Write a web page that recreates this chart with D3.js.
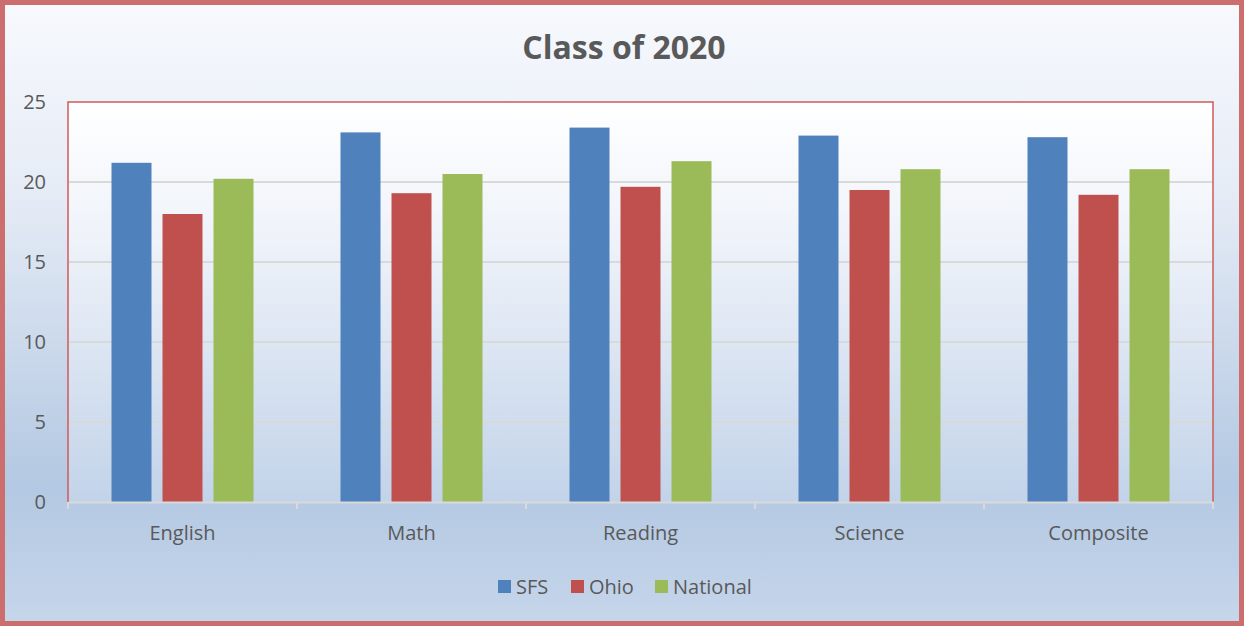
<!DOCTYPE html>
<html><head><meta charset="utf-8">
<script src="https://cdn.jsdelivr.net/npm/d3@7"></script>
<style>html,body{margin:0;padding:0;background:#fff;}svg{display:block;}</style>
</head><body>
<svg id="chart" width="1244" height="626"></svg>
<script>
const categories = ["English", "Math", "Reading", "Science", "Composite"];
const seriesNames = ["SFS", "Ohio", "National"];
const sfs = [21.2, 23.1, 23.4, 22.9, 22.8];
const ohio = [18.0, 19.3, 19.7, 19.5, 19.2];
const national = [20.2, 20.5, 21.3, 20.8, 20.8];
const yTicks = [0, 5, 10, 15, 20, 25];
const colors = ["#4f81bd", "#c0504d", "#9bbb59"];
const title = "Class of 2020";

const seriesValues = [sfs, ohio, national];
const svg = d3.select("#chart");
const W = 1244, H = 626;
const font = "'Open Sans', sans-serif";
const textColor = "#595959";

const defs = svg.append("defs");
const g1 = defs.append("linearGradient").attr("id","bg").attr("x1",0).attr("y1",0).attr("x2",0).attr("y2",1);
g1.append("stop").attr("offset","0").attr("stop-color","#f7f9fd");
g1.append("stop").attr("offset","0.3").attr("stop-color","#e6ecf6");
g1.append("stop").attr("offset","0.78").attr("stop-color","#b3c8e2");
g1.append("stop").attr("offset","1").attr("stop-color","#c6d6eb");
const g2 = defs.append("linearGradient").attr("id","pbg").attr("x1",0).attr("y1",0).attr("x2",0).attr("y2",1);
g2.append("stop").attr("offset","0").attr("stop-color","#ffffff");
g2.append("stop").attr("offset","0.35").attr("stop-color","#eef2f9");
g2.append("stop").attr("offset","1").attr("stop-color","#c2d3e9");

// outer background + border
svg.append("rect").attr("x",2.5).attr("y",2.5).attr("width",W-5).attr("height",H-5)
  .attr("fill","url(#bg)").attr("stroke","#cd6e6e").attr("stroke-width",5);

const margin = {left:68, top:102, right:W-1213, bottom:H-502};
const pw = W - margin.left - margin.right, ph = H - margin.top - margin.bottom;

const x0 = d3.scaleBand().domain(categories).range([margin.left, margin.left+pw]).paddingInner(0).paddingOuter(0);
const x1 = d3.scaleBand().domain(seriesNames).range([0, x0.bandwidth()]).paddingInner(0.216).paddingOuter(0.853);
const y = d3.scaleLinear().domain([0,25]).range([margin.top+ph, margin.top]);

// plot area
svg.append("rect").attr("x",margin.left).attr("y",margin.top).attr("width",pw).attr("height",ph)
  .attr("fill","url(#pbg)");
// plot area border (top, left, right)
svg.append("path")
  .attr("d",`M${margin.left},${margin.top+ph}V${margin.top}H${margin.left+pw}V${margin.top+ph}`)
  .attr("fill","none").attr("stroke","#cf5a5a").attr("stroke-width",1.5);

// gridlines
svg.append("g").selectAll("line").data(yTicks.filter(d=>d>0 && d<25)).join("line")
  .attr("x1",margin.left+1).attr("x2",margin.left+pw-1)
  .attr("y1",d=>y(d)).attr("y2",d=>y(d))
  .attr("stroke","#d9d9d9").attr("stroke-width",2);

// y axis labels
const yAxis = d3.axisLeft(y).tickValues(yTicks).tickSize(0).tickPadding(0);
const ya = svg.append("g").attr("transform",`translate(${margin.left-22},0)`).call(yAxis);
ya.select(".domain").remove();
ya.selectAll("text").attr("font-family",font).attr("font-size",20).attr("fill",textColor);

// bars
const groups = svg.append("g").selectAll("g").data(categories).join("g")
  .attr("transform",d=>`translate(${x0(d)},0)`);
groups.selectAll("rect").data((c,i)=>seriesNames.map((s,j)=>({s, v:seriesValues[j][i], j}))).join("rect")
  .attr("x",d=>x1(d.s)).attr("width",x1.bandwidth())
  .attr("y",d=>y(d.v)).attr("height",d=>y(0)-y(d.v))
  .attr("fill",d=>colors[d.j]);

// x axis
const xAxis = d3.axisBottom(x0).tickSize(0).tickPadding(24);
const xa = svg.append("g").attr("transform",`translate(0,${y(0)})`).call(xAxis);
xa.select(".domain").attr("stroke","#d9d9d9").attr("stroke-width",2);
xa.selectAll("text").attr("font-family",font).attr("font-size",20).attr("fill",textColor);
// category boundary ticks
const bounds = categories.map(c=>x0(c)).concat([margin.left+pw]);
xa.append("g").selectAll("line").data(bounds).join("line")
  .attr("x1",d=>d).attr("x2",d=>d).attr("y1",0).attr("y2",7)
  .attr("stroke","#d9d9d9").attr("stroke-width",2);

// title
svg.append("text").attr("x",624).attr("y",59).attr("text-anchor","middle")
  .attr("font-family",font).attr("font-weight","bold").attr("font-size",32)
  .attr("fill",textColor).text(title);

// legend
const legend = svg.append("g").attr("transform","translate(498,587)");
const lx = [0, 73, 157];
const li = legend.selectAll("g").data(seriesNames).join("g").attr("transform",(d,i)=>`translate(${lx[i]},0)`);
li.append("rect").attr("x",0).attr("y",-7).attr("width",13).attr("height",13).attr("fill",(d,i)=>colors[i]);
li.append("text").attr("x",18).attr("y",0).attr("dy","0.35em")
  .attr("font-family",font).attr("font-size",20).attr("fill",textColor).text(d=>d);
</script>
</body></html>
